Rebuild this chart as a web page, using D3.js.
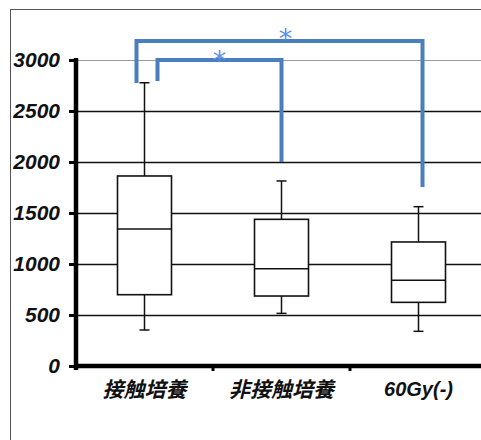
<!DOCTYPE html>
<html>
<head>
<meta charset="utf-8">
<script src="https://cdn.jsdelivr.net/npm/d3@7"></script>
<style>
    body { margin: 0; background: #fff; }
</style>
</head>
<body>
<div id="chart"></div>
<script>
// box plot values
const categories = ["接触培養", "非接触培養", "60Gy(-)"];
const whiskerMax = [2777, 1814, 1562];
const q3 = [1863, 1438, 1216];
const medians = [1343, 954, 840];
const q1 = [699, 686, 624];
const whiskerMin = [353, 516, 340];
const yTicks = [0, 500, 1000, 1500, 2000, 2500, 3000];

// significance brackets: from / to category index, heights in data units
const sigFrom = [0, 0];
const sigTo = [1, 2];
const sigTop = [3000, 3186];
const sigLeftEnd = [2794, 2775];
const sigRightEnd = [2000, 1755];
const sigLabel = ["*", "*"];

const chart = { width: 481, height: 440 };
const margin = { left: 76, top: 60, bottom: 74 };

const svg = d3.select("#chart").append("svg")
    .attr("width", chart.width).attr("height", chart.height);

// outer frame (cut off on the right and bottom)
svg.append("rect")
    .attr("x", 10.5).attr("y", 9.5)
    .attr("width", 500).attr("height", 500)
    .attr("fill", "none").attr("stroke", "#555").attr("stroke-width", 1);

const x = d3.scaleBand()
    .domain(categories)
    .range([margin.left, margin.left + 411])
    .padding(0);

const y = d3.scaleLinear()
    .domain([0, 3000])
    .range([366, 60]);

// gridlines
const grid = svg.append("g").attr("class", "grid");
grid.selectAll("line").data(yTicks.filter(d => d > 0))
    .enter().append("line")
    .attr("x1", margin.left).attr("x2", chart.width)
    .attr("y1", d => Math.round(y(d)) + 0.5).attr("y2", d => Math.round(y(d)) + 0.5)
    .attr("stroke", d => d === 3000 ? "#999" : "#111")
    .attr("stroke-width", d => d === 3000 ? 1 : 1.3);

// boxes
const bw = 54;
const boxes = svg.append("g").selectAll("g").data(categories)
    .enter().append("g");

boxes.append("line")
    .attr("x1", d => x(d) + x.bandwidth() / 2).attr("x2", d => x(d) + x.bandwidth() / 2)
    .attr("y1", (d, i) => y(whiskerMax[i])).attr("y2", (d, i) => y(whiskerMin[i]))
    .attr("stroke", "#111").attr("stroke-width", 1.5);

boxes.append("line")
    .attr("x1", d => x(d) + x.bandwidth() / 2 - 5).attr("x2", d => x(d) + x.bandwidth() / 2 + 5)
    .attr("y1", (d, i) => y(whiskerMax[i])).attr("y2", (d, i) => y(whiskerMax[i]))
    .attr("stroke", "#111").attr("stroke-width", 1.5);

boxes.append("line")
    .attr("x1", d => x(d) + x.bandwidth() / 2 - 5).attr("x2", d => x(d) + x.bandwidth() / 2 + 5)
    .attr("y1", (d, i) => y(whiskerMin[i])).attr("y2", (d, i) => y(whiskerMin[i]))
    .attr("stroke", "#111").attr("stroke-width", 1.5);

boxes.append("rect")
    .attr("x", d => x(d) + x.bandwidth() / 2 - bw / 2)
    .attr("y", (d, i) => y(q3[i]))
    .attr("width", bw)
    .attr("height", (d, i) => y(q1[i]) - y(q3[i]))
    .attr("fill", "#fff").attr("stroke", "#111").attr("stroke-width", 1.6);

boxes.append("line")
    .attr("x1", d => x(d) + x.bandwidth() / 2 - bw / 2).attr("x2", d => x(d) + x.bandwidth() / 2 + bw / 2)
    .attr("y1", (d, i) => y(medians[i])).attr("y2", (d, i) => y(medians[i]))
    .attr("stroke", "#111").attr("stroke-width", 1.6);

// y axis
const yAxis = svg.append("g")
    .attr("transform", "translate(" + margin.left + ",0)")
    .call(d3.axisLeft(y).tickValues(yTicks).tickFormat(d3.format("d")).tickSize(7).tickPadding(9));
yAxis.select(".domain").attr("stroke", "#000").attr("stroke-width", 4.5)
    .attr("d", "M0," + (y(3000) - 2) + "V" + (y(0) + 4));
yAxis.selectAll(".tick line").attr("stroke", "#000").attr("stroke-width", 3);
yAxis.selectAll(".tick text")
    .style("font-family", "Liberation Sans, Arial, sans-serif")
    .style("font-size", "21px").style("font-weight", "bold").style("font-style", "italic")
    .attr("fill", "#111");

// x axis
const xAxis = svg.append("g")
    .attr("transform", "translate(0," + y(0) + ")")
    .call(d3.axisBottom(x).tickSize(0).tickPadding(16));
xAxis.select(".domain").attr("stroke", "#000").attr("stroke-width", 4.5)
    .attr("d", "M" + (margin.left - 2) + ",0H" + chart.width);
xAxis.selectAll(".sep").data([categories[1], categories[2]])
    .enter().append("line").attr("class", "sep")
    .attr("x1", d => x(d)).attr("x2", d => x(d))
    .attr("y1", 0).attr("y2", 5)
    .attr("stroke", "#000").attr("stroke-width", 3);
xAxis.selectAll(".tick text")
    .style("font-family", (d, i) => i < 2 ? "Noto Sans CJK JP, sans-serif" : "Liberation Sans, Arial, sans-serif")
    .style("font-size", (d, i) => i < 2 ? "21px" : "20px")
    .style("font-weight", "bold")
    .style("font-style", "italic")
    .attr("fill", "#111");

// significance brackets
const leftOff = [13, -8];
const rightOff = [0, 4];
sigFrom.forEach((f, i) => {
    const x0 = x(categories[f]) + x.bandwidth() / 2 + leftOff[i];
    const x1 = x(categories[sigTo[i]]) + x.bandwidth() / 2 + rightOff[i];
    const path = d3.path();
    path.moveTo(x0, y(sigLeftEnd[i]));
    path.lineTo(x0, y(sigTop[i]));
    path.lineTo(x1, y(sigTop[i]));
    path.lineTo(x1, y(sigRightEnd[i]));
    svg.append("path")
        .attr("d", path.toString())
        .attr("fill", "none")
        .attr("stroke", "#4a7ebf").attr("stroke-width", 4)
        .attr("stroke-linejoin", "miter");
    svg.append("text")
        .attr("x", (x0 + x1) / 2 + (i === 0 ? 0 : 6))
        .attr("y", y(sigTop[i]) + (i === 0 ? 10 : 7))
        .attr("text-anchor", "middle")
        .style("font-family", "DejaVu Sans, sans-serif")
        .style("font-size", "27px")
        .attr("fill", "#5b8ee8")
        .text(sigLabel[i]);
});
</script>
</body>
</html>
